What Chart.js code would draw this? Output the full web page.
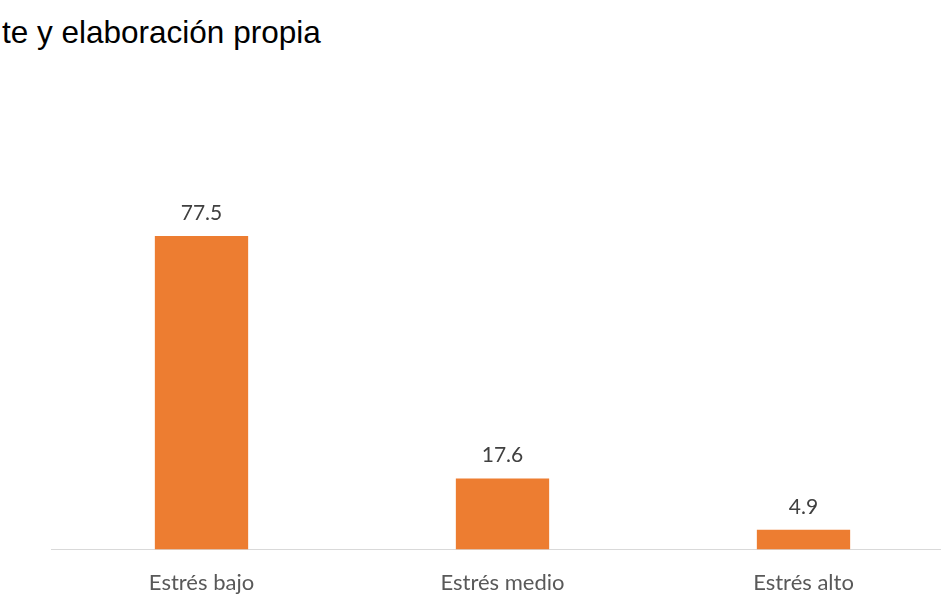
<!DOCTYPE html>
<html>
<head>
<meta charset="utf-8">
<script src="https://cdn.jsdelivr.net/npm/chart.js@4"></script>
<style>
  html, body { margin: 0; padding: 0; background: #fff; }
  #wrap { position: relative; width: 941px; height: 608px; overflow: hidden; }
  #note { position: absolute; left: 2px; top: 17px; font-family: "Liberation Sans", Arial, sans-serif; font-size: 31.5px; line-height: 1; color: #000; white-space: nowrap; }
  #myChart { position: absolute; left: 0; top: 0; }
</style>
</head>
<body>
<div id="wrap">
  <div id="note">te y elaboración propia</div>
  <canvas id="myChart" width="960" height="624"></canvas>
</div>
<script>
const categories = ['Estrés bajo', 'Estrés medio', 'Estrés alto'];
const values = [77.5, 17.6, 4.9];

// draw the value above each bar
const valueLabels = {
  id: 'valueLabels',
  afterDatasetsDraw(chart) {
    const ctx = chart.ctx;
    const meta = chart.getDatasetMeta(0);
    ctx.save();
    ctx.font = '21px Lato, "Open Sans", sans-serif';
    ctx.fillStyle = '#404040';
    ctx.textAlign = 'center';
    ctx.textBaseline = 'middle';
    meta.data.forEach((bar, i) => {
      ctx.fillText(values[i].toFixed(1), bar.x, bar.y - 23);
    });
    ctx.restore();
  }
};

document.addEventListener("DOMContentLoaded", () => {
  const ctx = document.getElementById('myChart').getContext('2d');

  new Chart(ctx, {
    type: 'bar',
    data: {
      labels: categories,
      datasets: [{
        data: values,
        backgroundColor: '#ED7D31',
        borderWidth: 0,
        categoryPercentage: 1,
        barPercentage: 0.31
      }]
    },
    options: {
      responsive: false,
      animation: false,
      layout: { padding: { left: 51, right: 6, top: 226, bottom: 16 } },
      plugins: { legend: { display: false }, tooltip: { enabled: false } },
      scales: {
        x: {
          grid: { display: false },
          border: { display: true, color: '#D9D9D9', width: 1 },
          ticks: { color: '#595959', padding: 12, font: { family: 'Lato, "Open Sans", sans-serif', size: 22 } }
        },
        y: {
          display: false,
          min: 0,
          max: 80
        }
      }
    },
    plugins: [valueLabels]
  });
});
</script>
</body>
</html>
